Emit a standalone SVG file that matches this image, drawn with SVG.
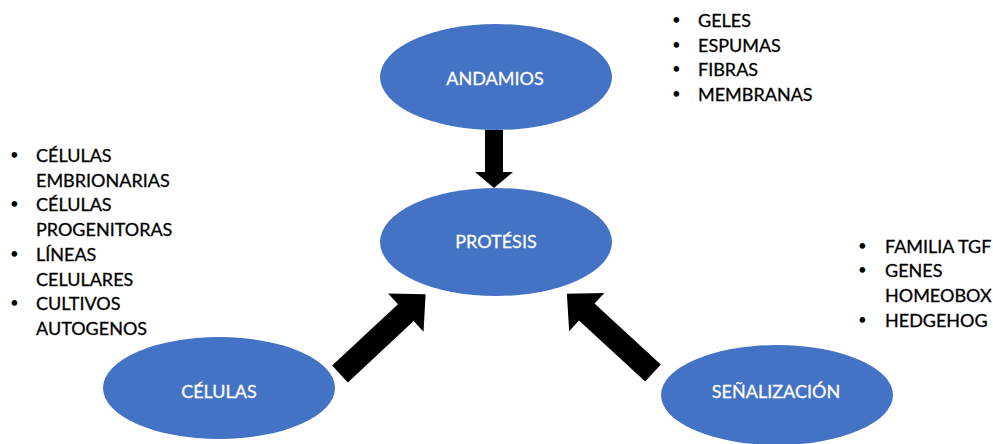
<svg xmlns="http://www.w3.org/2000/svg" width="993" height="444" viewBox="0 0 993 444">
<style>
.node{fill:#4472C4;}
.lbl{font-family:Lato,"Liberation Sans",sans-serif;font-size:18px;fill:#ffffff;stroke:#ffffff;stroke-width:0.3;text-anchor:middle;}
.li{font-family:Lato,"Liberation Sans",sans-serif;font-size:18px;fill:#000000;stroke:#000000;stroke-width:0.3;}
.bu{font-family:Lato,"Liberation Sans",sans-serif;font-size:15px;fill:#000000;}
.arr{fill:#000000;}
</style>
<rect width="993" height="444" fill="#ffffff"/>
<g id="connectors">
<polygon class="arr" transform="translate(494,130) rotate(90)" points="0,-9 42,-9 42,-19 58,0 42,19 42,9 0,9"/>
<polygon class="arr" transform="translate(340,374) rotate(-43)" points="0,-11.5 90,-11.5 90,-26 117,0 90,26 90,11.5 0,11.5"/>
<polygon class="arr" transform="translate(653,373) rotate(-137.4)" points="0,-11.5 90,-11.5 90,-26 117,0 90,26 90,11.5 0,11.5"/>
</g>
<g id="andamios">
<ellipse class="node" cx="496" cy="77" rx="116" ry="53"/>
<text class="lbl" x="495" y="85">ANDAMIOS</text>
</g>
<g id="protesis">
<ellipse class="node" cx="496" cy="242" rx="116" ry="54"/>
<text class="lbl" x="496" y="248">PROTÉSIS</text>
</g>
<g id="celulas">
<ellipse class="node" cx="219" cy="388" rx="116" ry="51"/>
<text class="lbl" x="219" y="398">CÉLULAS</text>
</g>
<g id="senalizacion">
<ellipse class="node" cx="777" cy="395" rx="116" ry="50"/>
<text class="lbl" x="776" y="398">SEÑALIZACIÓN</text>
</g>
<g id="lista-andamios">
<text class="bu" x="672" y="25">•</text><text class="li" x="698" y="27">GELES</text>
<text class="bu" x="672" y="49.5">•</text><text class="li" x="698" y="51.5">ESPUMAS</text>
<text class="bu" x="672" y="74">•</text><text class="li" x="698" y="76">FIBRAS</text>
<text class="bu" x="672" y="98.5">•</text><text class="li" x="698" y="100.5">MEMBRANAS</text>
</g>
<g id="lista-celulas">
<text class="bu" x="10" y="160">•</text><text class="li" x="36" y="162">CÉLULAS</text>
<text class="li" x="36" y="186.7">EMBRIONARIAS</text>
<text class="bu" x="10" y="209.4">•</text><text class="li" x="36" y="211.4">CÉLULAS</text>
<text class="li" x="36" y="236">PROGENITORAS</text>
<text class="bu" x="10" y="258.8">•</text><text class="li" x="36" y="260.8">LÍNEAS</text>
<text class="li" x="36" y="285.5">CELULARES</text>
<text class="bu" x="10" y="308">•</text><text class="li" x="36" y="310">CULTIVOS</text>
<text class="li" x="36" y="335">AUTOGENOS</text>
</g>
<g id="lista-senalizacion">
<text class="bu" x="858" y="251">•</text><text class="li" x="885" y="253">FAMILIA TGF</text>
<text class="bu" x="858" y="275">•</text><text class="li" x="885" y="277">GENES</text>
<text class="li" x="885" y="302">HOMEOBOX</text>
<text class="bu" x="858" y="325">•</text><text class="li" x="885" y="327">HEDGEHOG</text>
</g>
</svg>
